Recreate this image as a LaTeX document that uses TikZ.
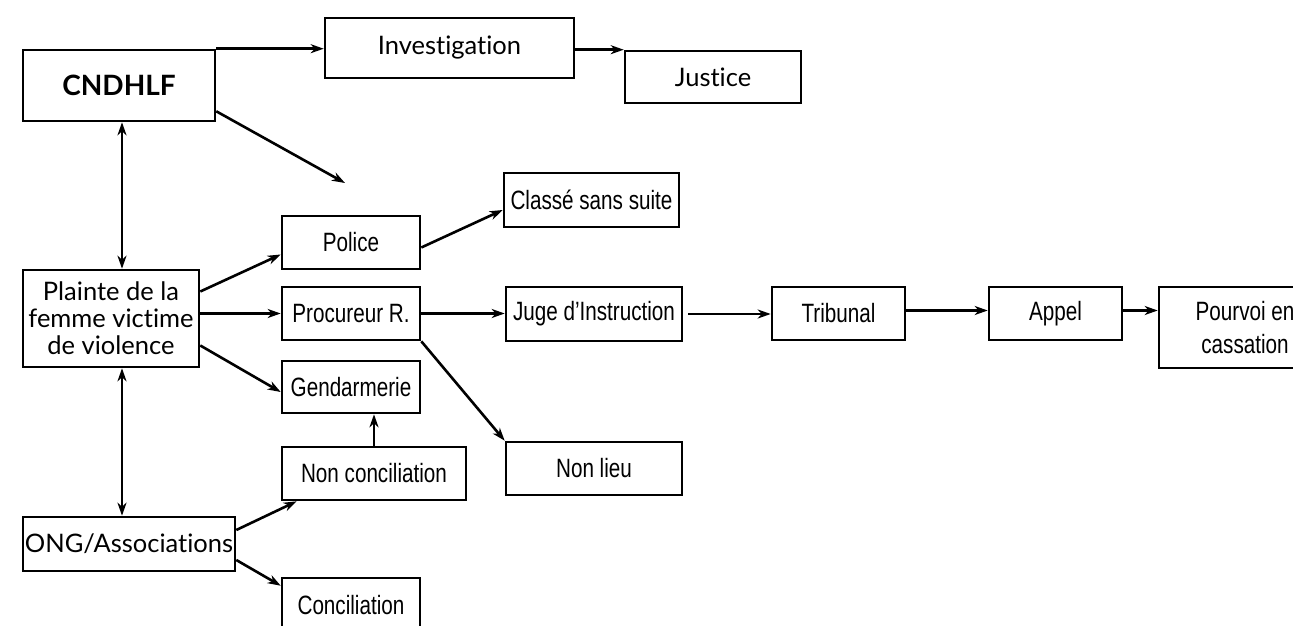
\documentclass[tikz,border=0pt]{standalone}
\usepackage{fontspec}
\usetikzlibrary{arrows.meta,calc}
\newfontfamily\gillfont[Ligatures={NoCommon}]{Lato}
\newfontfamily\narrowfont[FakeStretch=0.78]{Liberation Sans}
\tikzset{
  box/.style={draw,line width=2.6pt,inner sep=0pt,align=center},
  gbox/.style={box,font=\gillfont\fontsize{25.5}{27}\selectfont},
  nbox/.style={box,font=\narrowfont\fontsize{26.5}{33}\selectfont},
  tip/.tip={Stealth[length=13pt,width=9pt,inset=4pt]},
  conn/.style={line width=2.6pt,-tip},
  dconn/.style={line width=2.6pt,tip-tip}
}
\begin{document}
\begin{tikzpicture}[x=1pt,y=-1pt]
\useasboundingbox (0,0) rectangle (1293,626);
\clip (0,0) rectangle (1293,626);
\fill[white] (0,0) rectangle (1293,626);
% nodes
\node[gbox,minimum width=192pt,minimum height=71pt,font=\gillfont\bfseries\fontsize{28}{30}\selectfont] (cnd) at (119,85.5) {CNDHLF};
\node[gbox,minimum width=249pt,minimum height=60pt] (inv) at (449.5,48) {Investigation};
\node[gbox,minimum width=176pt,minimum height=52pt] (jus) at (713,77) {Justice};
\node[nbox,minimum width=175pt,minimum height=54pt] (cla) at (591.5,200) {Classé sans suite};
\node[nbox,minimum width=138pt,minimum height=53pt] (pol) at (351,242.5) {Police};
\node[nbox,minimum width=138pt,minimum height=53pt] (pro) at (351,313.5) {Procureur R.};
\node[nbox,minimum width=138pt,minimum height=52pt] (gen) at (351,387) {Gendarmerie};
\node[gbox,minimum width=176pt,minimum height=97pt] (pla) at (111,318.5) {Plainte de la\\femme victime\\de violence};
\node[nbox,minimum width=176pt,minimum height=54pt] (jug) at (594,314) {Juge d’Instruction};
\node[nbox,minimum width=133pt,minimum height=53pt] (tri) at (838.5,313.5) {Tribunal};
\node[nbox,minimum width=133pt,minimum height=53pt] (app) at (1055.5,313.5) {Appel};
\node[nbox,minimum width=172pt,minimum height=81pt] (pou) at (1245,327.5) {Pourvoi en\\cassation};
\node[nbox,minimum width=176pt,minimum height=53pt] (nli) at (594,468.5) {Non lieu};
\node[nbox,minimum width=184pt,minimum height=53pt] (nco) at (374,473.5) {Non conciliation};
\node[gbox,minimum width=212pt,minimum height=54pt] (ong) at (129,544) {ONG/Associations};
\node[nbox,minimum width=138pt,minimum height=54pt] (con) at (351,605) {Conciliation};
\coordinate (free) at (345,183);
\coordinate (cndb) at ($(cnd.south)+(3,0)$);
\coordinate (plab) at ($(pla.south)+(11,0)$);
\coordinate (trie) at ($(tri.east)+(0,-3)$);
\coordinate (appe) at ($(app.east)+(0,-3)$);
% connectors
\draw[conn] (cnd.north east) -- (inv.west |- cnd.north east);
\draw[conn] (inv.east |- jus.north) -- (jus.north west);
\draw[conn] ($(cnd.south east)+(0,-11)$) -- (free);
\draw[dconn] (cndb) -- (cndb |- pla.north);
\draw[dconn] (plab) -- (plab |- ong.north);
\draw[conn] ($(pla.east)+(0,-27)$) -- ($(pol.west)+(0,12)$);
\draw[conn] (pla.east |- pro.west) -- (pro.west);
\draw[conn] ($(pla.east)+(0,27)$) -- ($(gen.west)+(0,5)$);
\draw[conn] ($(pol.east)+(0,5)$) -- ($(cla.west)+(0,10)$);
\draw[conn] (pro.east) -- (jug.west |- pro.east);
\draw[conn] (pro.south east) -- (nli.north west);
\draw[conn] ($(jug.east)+(5,0)$) -- (tri.west |- jug.east);
\draw[conn] (trie) -- (trie -| app.west);
\draw[conn] (appe) -- (appe -| pou.west);
\draw[conn] (nco.north) -- (nco.north |- gen.south);
\draw[conn] ($(ong.east)+(0,-14)$) -- ($(nco.south west)+(16,0)$);
\draw[conn] ($(ong.east)+(0,16)$) -- ($(con.north west)+(0,9)$);
\end{tikzpicture}
\end{document}
